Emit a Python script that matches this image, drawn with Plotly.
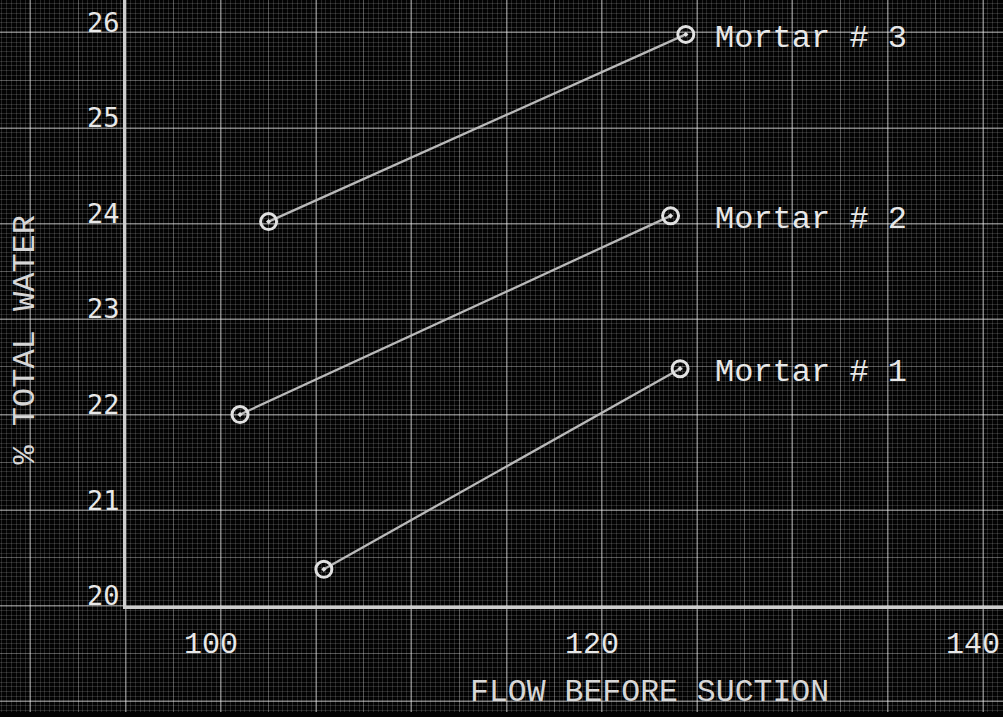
import plotly.graph_objects as go

# ---------------- data ----------------
SERIES_NAMES = ["Mortar # 1", "Mortar # 2", "Mortar # 3"]
MORTAR_1_FLOW = [105.4, 124.1]
MORTAR_1_WATER = [20.38, 22.48]
MORTAR_2_FLOW = [101.0, 123.6]
MORTAR_2_WATER = [22.0, 24.08]
MORTAR_3_FLOW = [102.5, 124.4]
MORTAR_3_WATER = [24.02, 25.98]

X_TICKS = [100, 120, 140]
Y_TICKS = [20, 21, 22, 23, 24, 25, 26]
X_TITLE = "FLOW BEFORE SUCTION"
Y_TITLE = "% TOTAL WATER"

# ---------------- layout constants ----------------
W, H = 1003, 717
X_MIN, X_MAX = 88.4, 141.05      # full sheet (grid) range
Y_MIN, Y_MAX = 18.886, 26.34
X_ORIGIN, Y_ORIGIN = 95.0, 20.0  # where the drawn axes cross
LABEL_X = 125.85                 # column where series labels start

BG = "#030303"
FINE = "rgba(255,255,255,0.14)"
MEDIUM = "rgba(255,255,255,0.32)"
HEAVY = "rgba(255,255,255,0.25)"
AXIS = "rgb(205,205,205)"
INK = "rgb(232,232,232)"
LINE = "rgb(185,185,185)"
TYPE_FONT = "Liberation Mono"

fx = (X_ORIGIN - X_MIN) / (X_MAX - X_MIN)
fy = (Y_ORIGIN - Y_MIN) / (Y_MAX - Y_MIN)

fig = go.Figure()

# empty traces so the grid subplots are created
fig.add_trace(go.Scatter(x=[], y=[], xaxis="x", yaxis="y", showlegend=False, hoverinfo="skip"))
fig.add_trace(go.Scatter(x=[], y=[], xaxis="x3", yaxis="y3", showlegend=False, hoverinfo="skip"))

series = [
    (SERIES_NAMES[0], MORTAR_1_FLOW, MORTAR_1_WATER),
    (SERIES_NAMES[1], MORTAR_2_FLOW, MORTAR_2_WATER),
    (SERIES_NAMES[2], MORTAR_3_FLOW, MORTAR_3_WATER),
]
for name, xs, ys in series:
    fig.add_trace(go.Scatter(
        x=xs, y=ys, name=name, mode="lines+markers",
        xaxis="x2", yaxis="y2", showlegend=False,
        line=dict(color=LINE, width=2.3),
        marker=dict(symbol="circle-open-dot", size=16, color="rgb(225,225,225)",
                    line=dict(width=3, color="rgb(225,225,225)")),
    ))

annotations = []
for name, xs, ys in series:
    annotations.append(dict(
        x=LABEL_X, y=ys[-1], xref="x2", yref="y2", text=name, showarrow=False,
        xanchor="left", yanchor="middle", yshift=-4,
        font=dict(family=TYPE_FONT, size=32, color=INK),
    ))
annotations.append(dict(
    x=26 / W, y=1 - 342 / H, xref="paper", yref="paper", text=Y_TITLE,
    showarrow=False, textangle=-90, xanchor="center", yanchor="middle",
    font=dict(family=TYPE_FONT, size=32, color="rgb(215,215,215)"),
))
annotations.append(dict(
    x=649 / W, y=1 - 697 / H, xref="paper", yref="paper", text=X_TITLE,
    showarrow=False, xanchor="center", yanchor="middle",
    font=dict(family=TYPE_FONT, size=31.5, color="rgb(215,215,215)"),
))

grid_common = dict(showticklabels=False, ticks="", zeroline=False, showline=False)

fig.update_layout(
    width=W, height=H, autosize=False,
    margin=dict(l=0, r=0, t=0, b=0, pad=0),
    paper_bgcolor=BG, plot_bgcolor="rgba(0,0,0,0)",
    showlegend=False,
    annotations=annotations,
    # base sheet grid: medium + fine
    xaxis=dict(domain=[0, 1], range=[X_MIN, X_MAX], anchor="y",
               tick0=0, dtick=2.5, showgrid=True, gridcolor=MEDIUM, gridwidth=1,
               minor=dict(tick0=0, dtick=0.25, showgrid=True, gridcolor=FINE, gridwidth=1),
               **grid_common),
    yaxis=dict(domain=[0, 1], range=[Y_MIN, Y_MAX], anchor="x",
               tick0=0, dtick=0.5, showgrid=True, gridcolor=MEDIUM, gridwidth=1,
               minor=dict(tick0=0, dtick=0.05, showgrid=True, gridcolor=FINE, gridwidth=1),
               **grid_common),
    # heavy lines every 5 flow units / 1 %
    xaxis3=dict(overlaying="x", range=[X_MIN, X_MAX], anchor="y3",
                tick0=0, dtick=5, showgrid=True, gridcolor=HEAVY, gridwidth=1.5,
                **grid_common),
    yaxis3=dict(overlaying="y", range=[Y_MIN, Y_MAX], anchor="x3",
                tick0=0, dtick=1, showgrid=True, gridcolor=HEAVY, gridwidth=1.5,
                **grid_common),
    # data axes with drawn axis lines
    xaxis2=dict(domain=[fx, 1], range=[X_ORIGIN, X_MAX], anchor="y2",
                showgrid=False, zeroline=False, showline=True, linecolor=AXIS, linewidth=2.5,
                tickmode="array", tickvals=X_TICKS, ticks="",
                ticklabelstandoff=9, ticklabelshift=-10,
                tickfont=dict(family=TYPE_FONT, size=30, color=INK)),
    yaxis2=dict(domain=[fy, 1], range=[Y_ORIGIN, Y_MAX], anchor="x2",
                showgrid=False, zeroline=False, showline=True, linecolor=AXIS, linewidth=2.5,
                tickmode="array", tickvals=Y_TICKS, ticks="",
                ticklabelstandoff=-2, ticklabelshift=-10,
                tickfont=dict(family="DejaVu Sans Mono", size=27, color=INK)),
)

fig.write_html(
    "out.html",
    config={"displayModeBar": False},
    post_script="document.body.style.margin='0';document.body.style.overflow='hidden';"
                "document.body.style.background='#030303';",
)
